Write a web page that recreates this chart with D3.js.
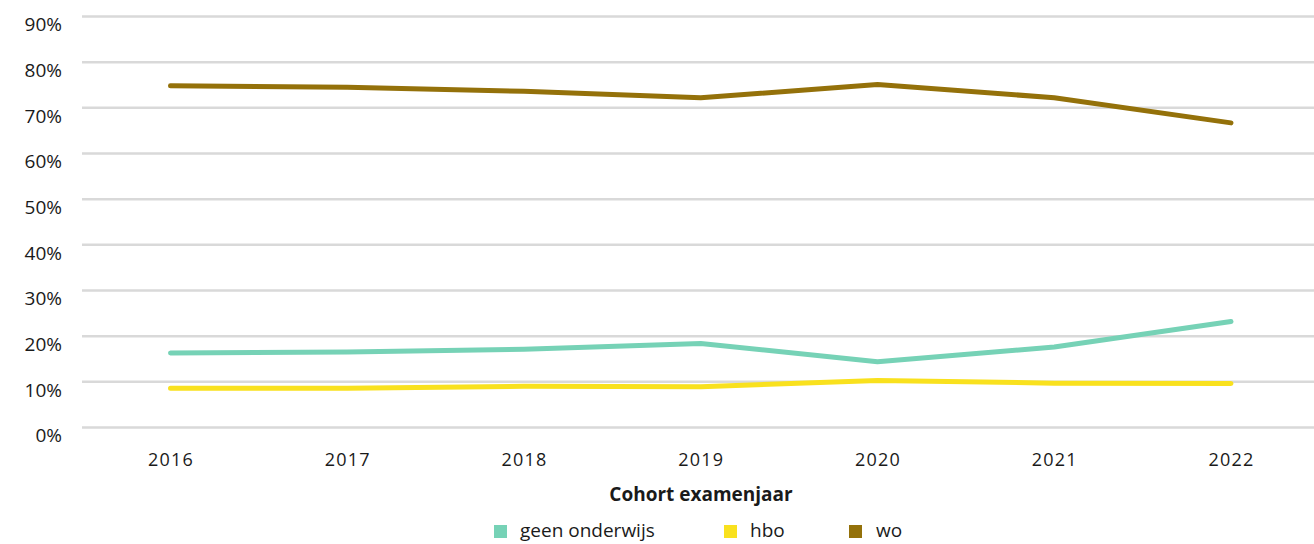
<!DOCTYPE html>
<html>
<head>
<meta charset="utf-8">
<script src="https://cdn.jsdelivr.net/npm/d3@7"></script>
<style>
  body { margin: 0; background: #fff; }
  svg text { font-family: "Open Sans", "Noto Sans", sans-serif; fill: #1a1a1a; }
</style>
</head>
<body>
<svg id="chart"></svg>
<script>
const years = ["2016", "2017", "2018", "2019", "2020", "2021", "2022"];
const seriesNames = ["geen onderwijs", "hbo", "wo"];
const geenOnderwijs = [16.2, 16.4, 17.0, 18.3, 14.3, 17.5, 23.1];
const hbo = [8.5, 8.5, 8.9, 8.8, 10.2, 9.6, 9.5];
const wo = [74.7, 74.4, 73.5, 72.1, 75.0, 72.1, 66.6];
const yTicks = [0, 10, 20, 30, 40, 50, 60, 70, 80, 90];
const colors = ["#76d2b6", "#f9e11e", "#94710a"];
const xTitle = "Cohort examenjaar";

const width = 1314, height = 544;
const marginLeft = 82, marginTop = 16;
const plotBottom = 427;

const svg = d3.select("#chart").attr("width", width).attr("height", height);

const x = d3.scalePoint().domain(years).range([170.5, 1231]);
const y = d3.scaleLinear().domain([0, 90]).range([plotBottom, marginTop]);

// rasterlijnen + y-as labels
const yAxis = svg.append("g")
    .attr("transform", `translate(${marginLeft},0)`)
    .call(d3.axisLeft(y).tickValues(yTicks).tickFormat(d => d + "%")
        .tickSize(-(width - marginLeft)).tickPadding(20));
yAxis.select(".domain").remove();
yAxis.selectAll(".tick line").attr("stroke", "#d9d9d9").attr("stroke-width", 2.5);
yAxis.selectAll(".tick text")
    .attr("font-size", "19px")
    .attr("dy", "0.78em")
    .attr("fill", "#1a1a1a");

// x-as
const xAxis = svg.append("g")
    .attr("transform", `translate(0,${plotBottom})`)
    .call(d3.axisBottom(x).tickSize(0).tickPadding(26));
xAxis.select(".domain").remove();
xAxis.selectAll(".tick text")
    .attr("font-size", "18px")
    .attr("letter-spacing", "1.2px")
    .attr("fill", "#1a1a1a");

svg.append("text")
    .attr("x", 701)
    .attr("y", 501)
    .attr("text-anchor", "middle")
    .attr("font-size", "19px")
    .attr("font-weight", "bold")
    .text(xTitle);

// lijnen
const allSeries = [geenOnderwijs, hbo, wo];
const line = d3.line()
    .x((d, i) => x(years[i]))
    .y(d => y(d));

svg.append("g")
    .selectAll("path")
    .data(allSeries)
    .join("path")
    .attr("d", d => line(d))
    .attr("fill", "none")
    .attr("stroke", (d, i) => colors[i])
    .attr("stroke-width", 5)
    .attr("stroke-linecap", "round")
    .attr("stroke-linejoin", "round");

// legenda
const legendX = [494, 724, 849];
const legend = svg.append("g")
    .selectAll("g")
    .data(seriesNames)
    .join("g")
    .attr("transform", (d, i) => `translate(${legendX[i]},531)`);
legend.append("rect")
    .attr("x", 0).attr("y", -6)
    .attr("width", 13).attr("height", 13)
    .attr("fill", (d, i) => colors[i]);
legend.append("text")
    .attr("x", (d, i) => i === 2 ? 27 : 26)
    .attr("dy", "0.32em")
    .attr("font-size", "19px")
    .text(d => d);
</script>
</body>
</html>
